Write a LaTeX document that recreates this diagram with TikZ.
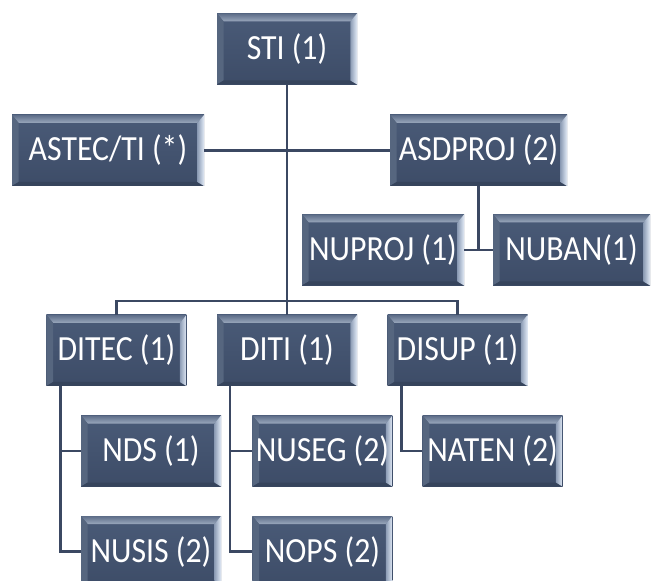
\documentclass[tikz,border=0pt]{standalone}
\usepackage{fontspec}
\setmainfont{Carlito}
\newfontfamily\boxfont[FakeStretch=0.9]{Carlito}
\usetikzlibrary{positioning}

\definecolor{facetop}{HTML}{4A5B78}
\definecolor{facebot}{HTML}{3D4C67}
\definecolor{bevtopA}{HTML}{5D6D88}
\definecolor{bevtopB}{HTML}{9AA8BD}
\definecolor{bevrightA}{HTML}{8C9CB5}
\definecolor{bevrightB}{HTML}{E2EAF6}
\definecolor{bevleft}{HTML}{56667F}
\definecolor{bevbot}{HTML}{36445C}
\definecolor{linkcol}{HTML}{3B4862}

\tikzset{
  box/.style={rectangle, minimum width=105pt, minimum height=53.25pt, inner sep=0pt,
    text=white, font=\boxfont\fontsize{26.5}{30}\selectfont,
    path picture={
      \path (path picture bounding box.south west) coordinate (psw)
            (path picture bounding box.north east) coordinate (pne)
            (path picture bounding box.north west) coordinate (pnw)
            (path picture bounding box.south east) coordinate (pse);
      \shade[top color=facetop, bottom color=facebot] (psw) rectangle (pne);
      \shade[top color=bevtopA, bottom color=bevtopB]
        (pnw) -- (pne) -- ([shift={(-5pt,-6pt)}]pne) -- ([shift={(5pt,-6pt)}]pnw) -- cycle;
      \fill[bevleft]
        (pnw) -- ([shift={(5pt,-6pt)}]pnw) -- ([shift={(5pt,3pt)}]psw) -- (psw) -- cycle;
      \fill[bevbot]
        (psw) -- ([shift={(5pt,3pt)}]psw) -- ([shift={(-5pt,3pt)}]pse) -- (pse) -- cycle;
      \shade[left color=bevrightA, right color=bevrightB]
        (pne) -- ([shift={(-5pt,-6pt)}]pne) -- ([shift={(-5pt,3pt)}]pse) -- (pse) -- cycle;
    }},
  link/.style={draw=linkcol, line width=2pt}
}

\begin{document}
\begin{tikzpicture}[x=0.75pt, y=-0.75pt]
  \useasboundingbox (0,0) rectangle (651,581);

  % top of the chart
  \node[box] (sti) at (287,49) {STI (1)};
  \node[box, minimum width=144pt] (astec) at (108,150.5) {ASTEC/TI (*)};
  \node[box, minimum width=132.75pt] (asdproj) at (478.5,150.5) {ASDPROJ (2)};
  \node[box, minimum width=121.5pt] (nuproj) at (383,250) {NUPROJ (1)};
  \node[box, minimum width=117.75pt] (nuban) at (571.5,250) {NUBAN(1)};

  % divisions
  \node[box] (diti) at (287,350.5) {DITI (1)};
  \node[box] (ditec) [left=22.5pt of diti] {DITEC (1)};
  \node[box] (disup) [right=22.5pt of diti] {DISUP (1)};

  % units
  \node[box] (nds) [below=21.75pt of ditec, xshift=25.9pt] {NDS (1)};
  \node[box] (nusis) [below=21.75pt of nds] {NUSIS (2)};
  \node[box] (nuseg) [below=21.75pt of diti, xshift=26.6pt] {NUSEG (2)};
  \node[box] (nops) [below=21.75pt of nuseg] {NOPS (2)};
  \node[box] (naten) [below=21.75pt of disup, xshift=26.3pt] {NATEN (2)};

  \coordinate (bus) at (287,301);

  \draw[link] (sti) -- (bus);
  \draw[link] (astec) -- (asdproj);
  \draw[link] (asdproj.south) -- (asdproj.south |- nuproj.east);
  \draw[link] (nuproj) -- (nuban);
  \draw[link] (ditec.north) |- (bus) -| (disup.north);
  \draw[link] (bus) -- (diti);

  \draw[link] ([xshift=10.5pt]ditec.south west) |- (nds.west);
  \draw[link] ([xshift=10.5pt]ditec.south west) |- (nusis.west);
  \draw[link] ([xshift=10pt]diti.south west) |- (nuseg.west);
  \draw[link] ([xshift=10pt]diti.south west) |- (nops.west);
  \draw[link] ([xshift=10.5pt]disup.south west) |- (naten.west);
\end{tikzpicture}
\end{document}
